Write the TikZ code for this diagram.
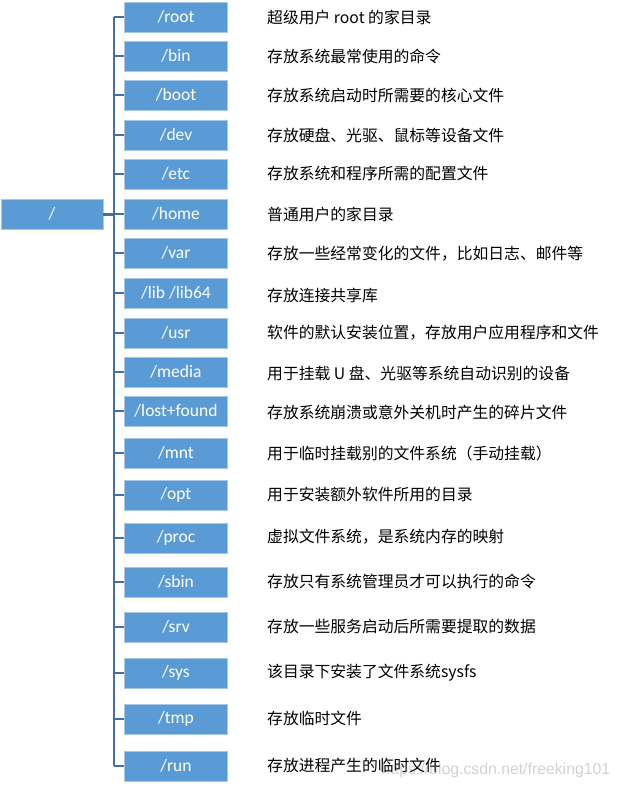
\documentclass[tikz,border=0pt]{standalone}
\usepackage{fontspec}
\setmainfont{Carlito}
\newfontfamily\cjk{Noto Sans CJK SC}
\newfontfamily\wmfont{Liberation Sans}
\usepackage{tikz}

\definecolor{boxfill}{HTML}{5B9BD5}
\definecolor{boxline}{HTML}{A7C7E7}
\definecolor{linkblue}{HTML}{41719C}

\tikzset{
  dirbox/.style={draw=boxline,line width=0.8pt,fill=boxfill,text=white,
    minimum width=103pt,minimum height=30pt,inner sep=0pt,
    font=\fontsize{17.5}{20}\selectfont},
  desc/.style={anchor=west,inner sep=0pt,font=\cjk\fontsize{15.8}{18}\selectfont},
  branch/.style={draw=linkblue,line width=1.3pt}
}

\begin{document}
\begin{tikzpicture}[x=1pt,y=-1pt]
\useasboundingbox[fill=white] (0,0) rectangle (619,787);
% root directory
\node[dirbox,minimum width=102pt] (slash) at (52,214) {/};
\coordinate (top) at (114,17);
\coordinate (bot) at (114,766);
\coordinate (hub) at (114,214);
% directories
\node[dirbox] (root) at (176,17) {/root};
\node[dirbox] (bin) at (176,56) {/bin};
\node[dirbox] (boot) at (176,95) {/boot};
\node[dirbox] (dev) at (176,135) {/dev};
\node[dirbox] (etc) at (176,174) {/etc};
\node[dirbox] (home) at (176,214) {/home};
\node[dirbox] (var) at (176,253) {/var};
\node[dirbox] (lib) at (176,293) {/lib /lib64};
\node[dirbox] (usr) at (176,333) {/usr};
\node[dirbox] (media) at (176,372) {/media};
\node[dirbox] (lost) at (176,411) {/lost+found};
\node[dirbox] (mnt) at (176,453) {/mnt};
\node[dirbox] (opt) at (176,495) {/opt};
\node[dirbox] (proc) at (176,538) {/proc};
\node[dirbox] (sbin) at (176,582) {/sbin};
\node[dirbox] (srv) at (176,627) {/srv};
\node[dirbox] (sys) at (176,673) {/sys};
\node[dirbox] (tmp) at (176,719) {/tmp};
\node[dirbox] (run) at (176,766) {/run};
% descriptions
\node[desc] (t-root) at (267,17) {超级用户 root 的家目录};
\node[desc] (t-bin) at (267,56) {存放系统最常使用的命令};
\node[desc] (t-boot) at (267,95) {存放系统启动时所需要的核心文件};
\node[desc] (t-dev) at (267,135) {存放硬盘、光驱、鼠标等设备文件};
\node[desc] (t-etc) at (267,173) {存放系统和程序所需的配置文件};
\node[desc] (t-home) at (267,214) {普通用户的家目录};
\node[desc] (t-var) at (267,254) {存放一些经常变化的文件，比如日志、邮件等};
\node[desc] (t-lib) at (267,295) {存放连接共享库};
\node[desc] (t-usr) at (267,333) {软件的默认安装位置，存放用户应用程序和文件};
\node[desc] (t-media) at (267,373) {用于挂载 U 盘、光驱等系统自动识别的设备};
\node[desc] (t-lost) at (267,412) {存放系统崩溃或意外关机时产生的碎片文件};
\node[desc] (t-mnt) at (267,453) {用于临时挂载别的文件系统（手动挂载）};
\node[desc] (t-opt) at (267,494) {用于安装额外软件所用的目录};
\node[desc] (t-proc) at (267,537) {虚拟文件系统，是系统内存的映射};
\node[desc] (t-sbin) at (267,581) {存放只有系统管理员才可以执行的命令};
\node[desc] (t-srv) at (267,626) {存放一些服务启动后所需要提取的数据};
\node[desc] (t-sys) at (267,673) {该目录下安装了文件系统sysfs};
\node[desc] (t-tmp) at (267,718) {存放临时文件};
\node[desc] (t-run) at (267,765) {存放进程产生的临时文件};
% tree lines
\draw[branch,line width=3pt] (slash.east) -- (hub);
\draw[branch,line width=1.8pt] (top) -- (bot);
\draw[branch] (top) -- (root.west);
\draw[branch] (bin.west -| top) -- (bin.west);
\draw[branch] (boot.west -| top) -- (boot.west);
\draw[branch] (dev.west -| top) -- (dev.west);
\draw[branch] (etc.west -| top) -- (etc.west);
\draw[branch] (hub) -- (home.west);
\draw[branch] (var.west -| top) -- (var.west);
\draw[branch] (lib.west -| top) -- (lib.west);
\draw[branch] (usr.west -| top) -- (usr.west);
\draw[branch] (media.west -| top) -- (media.west);
\draw[branch] (lost.west -| top) -- (lost.west);
\draw[branch] (mnt.west -| top) -- (mnt.west);
\draw[branch] (opt.west -| top) -- (opt.west);
\draw[branch] (proc.west -| top) -- (proc.west);
\draw[branch] (sbin.west -| top) -- (sbin.west);
\draw[branch] (srv.west -| top) -- (srv.west);
\draw[branch] (sys.west -| top) -- (sys.west);
\draw[branch] (tmp.west -| top) -- (tmp.west);
\draw[branch] (bot) -- (run.west);
% watermark
\node[text=gray,opacity=0.35,font=\wmfont\fontsize{15.8}{18}\selectfont] (mark) at (496,770) {https://blog.csdn.net/freeking101};
\end{tikzpicture}
\end{document}
